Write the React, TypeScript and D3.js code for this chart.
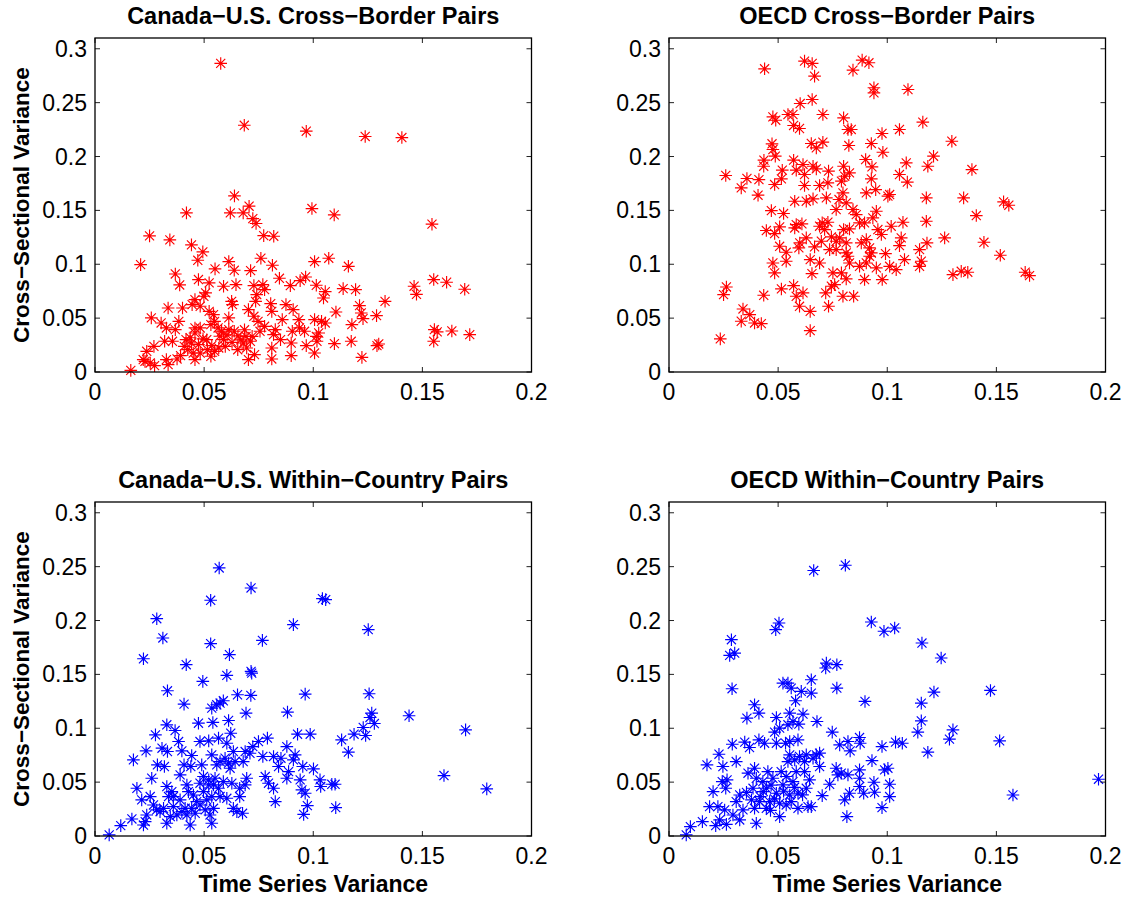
import React from "react";
import * as d3 from "d3";

type Pt = [number, number];

const xTicks = [0, 0.05, 0.1, 0.15, 0.2];
const yTicks = [0, 0.05, 0.1, 0.15, 0.2, 0.25, 0.3];
const xDomain: [number, number] = [0, 0.2];
const yDomain: [number, number] = [0, 0.31];

const panelTitles = [
  "Canada\u2212U.S. Cross\u2212Border Pairs",
  "OECD Cross\u2212Border Pairs",
  "Canada\u2212U.S. Within\u2212Country Pairs",
  "OECD Within\u2212Country Pairs",
];
const yLabelText = "Cross\u2212Sectional Variance";
const xLabelText = "Time Series Variance";

const canadaCrossBorder: Pt[] = [
  [0.0576, 0.2864], [0.0684, 0.229], [0.0968, 0.2235], [0.1238, 0.2186], [0.1406, 0.2176],
  [0.0639, 0.1635], [0.0419, 0.1477], [0.062, 0.1477], [0.0679, 0.1477], [0.0706, 0.1539],
  [0.0723, 0.1424], [0.0738, 0.1378], [0.0994, 0.1517], [0.1096, 0.1458], [0.1544, 0.1372],
  [0.025, 0.1263], [0.0343, 0.1226], [0.0773, 0.1266], [0.0819, 0.126], [0.0442, 0.118],
  [0.0494, 0.1115], [0.0471, 0.1037], [0.0209, 0.0997], [0.0368, 0.091], [0.0388, 0.0808],
  [0.055, 0.0957], [0.0613, 0.1025], [0.0638, 0.0944], [0.0713, 0.0941], [0.076, 0.1056],
  [0.0813, 0.0991], [0.1006, 0.1025], [0.1071, 0.1056], [0.1161, 0.0981], [0.0845, 0.087],
  [0.094, 0.0848], [0.0965, 0.0882], [0.1014, 0.0805], [0.0895, 0.0802], [0.1055, 0.0746],
  [0.1047, 0.0687], [0.1137, 0.0774], [0.1194, 0.0765], [0.1462, 0.0796], [0.1473, 0.0721],
  [0.1552, 0.0858], [0.1611, 0.0833], [0.1694, 0.0768], [0.1329, 0.0656], [0.1104, 0.0557],
  [0.1212, 0.0616], [0.122, 0.0548], [0.1228, 0.0495], [0.129, 0.0523], [0.1177, 0.044],
  [0.1555, 0.0393], [0.1568, 0.0372], [0.1635, 0.0381], [0.1717, 0.0347], [0.1552, 0.0285],
  [0.1174, 0.0285], [0.1097, 0.0263], [0.1292, 0.0245], [0.13, 0.026], [0.1223, 0.0136],
  [0.1006, 0.0176], [0.0968, 0.0245], [0.1017, 0.0285], [0.1025, 0.0362], [0.1038, 0.047],
  [0.1006, 0.0486], [0.096, 0.0378], [0.0899, 0.0152], [0.081, 0.0121], [0.0899, 0.0269],
  [0.0904, 0.0378], [0.0908, 0.0579], [0.0875, 0.0625], [0.0858, 0.0486], [0.0818, 0.0347],
  [0.081, 0.0563], [0.0805, 0.0635], [0.0777, 0.0765], [0.0769, 0.0811], [0.0728, 0.0802],
  [0.0741, 0.0718], [0.0736, 0.0656], [0.0703, 0.0579], [0.0728, 0.0517], [0.0747, 0.047],
  [0.0777, 0.0424], [0.0756, 0.0378], [0.072, 0.0331], [0.0692, 0.0331], [0.0679, 0.0269],
  [0.0654, 0.0207], [0.0703, 0.0115], [0.0731, 0.0161], [0.0638, 0.0378], [0.0613, 0.0393],
  [0.0597, 0.0238], [0.058, 0.0378], [0.0564, 0.0409], [0.0548, 0.047], [0.0613, 0.0502],
  [0.063, 0.0625], [0.0626, 0.0656], [0.0589, 0.0796], [0.0646, 0.0811], [0.0507, 0.0734],
  [0.0499, 0.0703], [0.0523, 0.0827], [0.0474, 0.0858], [0.0458, 0.0672], [0.0445, 0.0625],
  [0.0482, 0.061], [0.0523, 0.0563], [0.0543, 0.0533], [0.0531, 0.044], [0.0482, 0.0409],
  [0.0458, 0.0409], [0.0458, 0.0362], [0.0417, 0.03], [0.0442, 0.0269], [0.0474, 0.0254],
  [0.045, 0.0176], [0.0458, 0.0115], [0.0515, 0.0207], [0.0531, 0.0146], [0.0548, 0.0192],
  [0.0401, 0.0594], [0.0384, 0.047], [0.0368, 0.0393], [0.0335, 0.0594], [0.0303, 0.0455],
  [0.0327, 0.0409], [0.0258, 0.0502], [0.0319, 0.0285], [0.0355, 0.0285], [0.027, 0.0238],
  [0.0237, 0.0192], [0.0229, 0.0099], [0.0253, 0.0084], [0.0273, 0.0059], [0.0327, 0.0115],
  [0.0335, 0.0068], [0.0376, 0.0121], [0.0392, 0.0152], [0.0221, 0.0115], [0.0164, 0.0015],
  [0.0425, 0.0207], [0.0409, 0.0238], [0.0482, 0.0176], [0.0512, 0.03], [0.0567, 0.0223],
  [0.0589, 0.03], [0.0695, 0.0223], [0.081, 0.0223], [0.085, 0.03], [0.0934, 0.0486],
  [0.0937, 0.0409], [0.1055, 0.0455], [0.1014, 0.0331], [0.0826, 0.0393],
  [0.0605, 0.0345], [0.0655, 0.0335], [0.0668, 0.0298], [0.0712, 0.0285], [0.0685, 0.0392],
  [0.0628, 0.0275], [0.0572, 0.0332], [0.0535, 0.0245], [0.0495, 0.0308], [0.0436, 0.0318],
];

const oecdCrossBorder: Pt[] = [
  [0.0235, 0.0307], [0.025, 0.0718], [0.0263, 0.0789], [0.0331, 0.0471], [0.0339, 0.0585],
  [0.037, 0.0533], [0.0392, 0.0455], [0.0423, 0.0449], [0.0434, 0.0712], [0.026, 0.1824],
  [0.0331, 0.1709], [0.0357, 0.1796], [0.0412, 0.1786], [0.0408, 0.1641], [0.0438, 0.2814],
  [0.0476, 0.2368], [0.0489, 0.2337], [0.0472, 0.2118], [0.0476, 0.2065], [0.0435, 0.1966],
  [0.0434, 0.191], [0.0487, 0.2003], [0.0484, 0.174], [0.0515, 0.1793], [0.0519, 0.1873],
  [0.0469, 0.1498], [0.0525, 0.1471], [0.0446, 0.1313], [0.0484, 0.1285], [0.0507, 0.1347],
  [0.0476, 0.1012], [0.0484, 0.092], [0.0515, 0.0771], [0.0507, 0.1167], [0.0537, 0.1111],
  [0.0537, 0.1028], [0.0545, 0.239], [0.0568, 0.239], [0.0571, 0.2288], [0.0598, 0.226],
  [0.0601, 0.2492], [0.0621, 0.2885], [0.0656, 0.2864], [0.0667, 0.2746], [0.0656, 0.2529],
  [0.0705, 0.239], [0.0652, 0.2121], [0.0675, 0.208], [0.0705, 0.2133], [0.0571, 0.1966],
  [0.0583, 0.1873], [0.0614, 0.1926], [0.0621, 0.1833], [0.066, 0.191], [0.0675, 0.1885],
  [0.0731, 0.1864], [0.0621, 0.1731], [0.069, 0.1731], [0.0728, 0.1755], [0.0576, 0.1585],
  [0.0629, 0.1585], [0.066, 0.1607], [0.0721, 0.1616], [0.0583, 0.1368], [0.0609, 0.1375],
  [0.0576, 0.1337], [0.0599, 0.1198], [0.0629, 0.1245], [0.0595, 0.1152], [0.0647, 0.1043],
  [0.0655, 0.0913], [0.069, 0.1012], [0.0571, 0.0802], [0.0583, 0.0703], [0.0614, 0.0734],
  [0.0598, 0.061], [0.0647, 0.0563], [0.0647, 0.0384], [0.0667, 0.1161], [0.0698, 0.1214],
  [0.069, 0.1353], [0.0702, 0.1384], [0.0728, 0.139], [0.0713, 0.1322], [0.0744, 0.1254],
  [0.0766, 0.1214], [0.0782, 0.1245], [0.0766, 0.1136], [0.0736, 0.1136], [0.0718, 0.0734],
  [0.0744, 0.0796], [0.0759, 0.0811], [0.0731, 0.061], [0.0751, 0.092], [0.079, 0.092],
  [0.0812, 0.0864], [0.082, 0.1074], [0.0797, 0.0703], [0.0846, 0.0703], [0.0766, 0.1508],
  [0.0779, 0.1601], [0.0812, 0.157], [0.0797, 0.1663], [0.079, 0.1771], [0.0805, 0.1817],
  [0.0827, 0.1848], [0.08, 0.191], [0.08, 0.1322], [0.0827, 0.1328], [0.0812, 0.1198],
  [0.0812, 0.1105], [0.0827, 0.1012], [0.0858, 0.1461], [0.0843, 0.1508], [0.0873, 0.1384],
  [0.0896, 0.1384], [0.08, 0.2359], [0.082, 0.2251], [0.0835, 0.2251], [0.0824, 0.2102],
  [0.0843, 0.2802], [0.0885, 0.2895], [0.0916, 0.287], [0.0939, 0.2638], [0.0939, 0.2591],
  [0.0901, 0.1972], [0.0927, 0.2121], [0.093, 0.1904], [0.0927, 0.1793], [0.0904, 0.1663],
  [0.0947, 0.1693], [0.0904, 0.1229], [0.0919, 0.1152], [0.0927, 0.1105], [0.0904, 0.1012],
  [0.0919, 0.1074], [0.0881, 0.1198], [0.0873, 0.0981], [0.0896, 0.0858], [0.0934, 0.143],
  [0.095, 0.1492], [0.0957, 0.1322], [0.0973, 0.1276], [0.095, 0.0966], [0.0977, 0.0858],
  [0.0992, 0.1099], [0.0976, 0.2214], [0.098, 0.204], [0.1003, 0.1632], [0.1011, 0.1647],
  [0.1018, 0.1353], [0.1011, 0.0981], [0.1041, 0.095], [0.1056, 0.2251], [0.1095, 0.2622],
  [0.1163, 0.2319], [0.1056, 0.1833], [0.1087, 0.1941], [0.1092, 0.1762], [0.1064, 0.1245],
  [0.1056, 0.1173], [0.1072, 0.139], [0.1079, 0.1043], [0.1148, 0.1136], [0.1182, 0.1198],
  [0.1148, 0.0981], [0.1156, 0.1028], [0.1179, 0.1616], [0.1179, 0.1399], [0.1186, 0.191],
  [0.1212, 0.2003], [0.1263, 0.1245], [0.1296, 0.2142], [0.1301, 0.0904], [0.1339, 0.0935],
  [0.1369, 0.0926], [0.135, 0.1616], [0.1388, 0.1879], [0.1408, 0.1452], [0.1443, 0.1204],
  [0.1518, 0.1084], [0.1533, 0.1579], [0.1557, 0.1548], [0.1632, 0.0926], [0.1652, 0.0895],
];

const canadaWithin: Pt[] = [
  [0.0065, 0.001], [0.0118, 0.0096], [0.0169, 0.0158], [0.0222, 0.0102], [0.023, 0.0133],
  [0.0192, 0.0443], [0.0176, 0.0707], [0.0234, 0.079], [0.0222, 0.1645], [0.0283, 0.2017],
  [0.0311, 0.1838], [0.0332, 0.1348], [0.0408, 0.1224], [0.0418, 0.159], [0.0494, 0.1435],
  [0.053, 0.2188], [0.0569, 0.2488], [0.053, 0.1785], [0.0616, 0.1683], [0.0604, 0.1491],
  [0.0715, 0.2302], [0.0715, 0.1528], [0.0718, 0.1512], [0.0767, 0.1816], [0.0909, 0.1962],
  [0.1042, 0.2203], [0.1057, 0.2194], [0.1252, 0.1915], [0.1256, 0.132], [0.0653, 0.1311],
  [0.0714, 0.1305], [0.0692, 0.114], [0.0535, 0.1187], [0.0558, 0.1218], [0.0573, 0.1233],
  [0.0588, 0.1255], [0.054, 0.1054], [0.0474, 0.1047], [0.0612, 0.1072], [0.0882, 0.115],
  [0.0963, 0.1317], [0.0329, 0.1032], [0.0367, 0.0979], [0.0277, 0.0939], [0.0307, 0.0815],
  [0.0332, 0.0784], [0.0383, 0.0877], [0.0398, 0.079], [0.0286, 0.066], [0.0318, 0.0645],
  [0.026, 0.0536], [0.0214, 0.0335], [0.0253, 0.0366], [0.0268, 0.0288], [0.0237, 0.0195],
  [0.0298, 0.0226], [0.0329, 0.0118], [0.0345, 0.018], [0.0314, 0.0257], [0.0359, 0.0273],
  [0.0398, 0.0226], [0.0413, 0.0257], [0.0329, 0.0459], [0.0352, 0.0412], [0.0359, 0.0366],
  [0.039, 0.0335], [0.0337, 0.0366], [0.039, 0.0567], [0.0408, 0.066], [0.0443, 0.0747],
  [0.0439, 0.0645], [0.0421, 0.0474], [0.0436, 0.0102], [0.0443, 0.0257], [0.0466, 0.0319],
  [0.0451, 0.0381], [0.0428, 0.0412], [0.0489, 0.066], [0.0481, 0.049], [0.0497, 0.0412],
  [0.0505, 0.0242], [0.0527, 0.0195], [0.0535, 0.0118], [0.0543, 0.0257], [0.0481, 0.0877],
  [0.0521, 0.0883], [0.0566, 0.0908], [0.0604, 0.0861], [0.0622, 0.0954], [0.0535, 0.0753],
  [0.0558, 0.066], [0.0573, 0.0691], [0.0596, 0.0722], [0.0612, 0.0676], [0.0619, 0.0629],
  [0.0642, 0.0691], [0.0634, 0.0784], [0.0521, 0.0521], [0.0543, 0.0474], [0.0566, 0.0443],
  [0.0588, 0.0505], [0.0627, 0.049], [0.0573, 0.0366], [0.0604, 0.035], [0.0634, 0.0257],
  [0.065, 0.0226], [0.0676, 0.0211], [0.0663, 0.0366], [0.0663, 0.0443], [0.0688, 0.0474],
  [0.0695, 0.0536], [0.0679, 0.0691], [0.0688, 0.0784], [0.071, 0.0768], [0.0723, 0.083],
  [0.0749, 0.0877], [0.079, 0.0908], [0.0769, 0.0738], [0.0818, 0.0738], [0.078, 0.0552],
  [0.0795, 0.049], [0.0818, 0.0443], [0.0826, 0.0319], [0.0852, 0.0722], [0.0841, 0.0645],
  [0.0879, 0.083], [0.0887, 0.0598], [0.0879, 0.0536], [0.0909, 0.0707], [0.0917, 0.0753],
  [0.0928, 0.0945], [0.0986, 0.0945], [0.094, 0.0521], [0.0948, 0.0428], [0.0963, 0.0397],
  [0.0952, 0.0645], [0.0956, 0.0201], [0.0973, 0.0282], [0.1001, 0.0623], [0.1031, 0.0521],
  [0.1034, 0.0459], [0.1085, 0.048], [0.11, 0.048], [0.1103, 0.0263], [0.113, 0.0892],
  [0.1161, 0.0778], [0.1187, 0.0945], [0.1229, 0.1007], [0.124, 0.0933], [0.126, 0.11],
  [0.1268, 0.114], [0.128, 0.1044], [0.1439, 0.1116], [0.1599, 0.0561], [0.1698, 0.0985],
  [0.1795, 0.0437], [0.0283, 0.0242], [0.0375, 0.0195], [0.0421, 0.0195], [0.0459, 0.0211],
  [0.0481, 0.0288], [0.0512, 0.0335], [0.0535, 0.0366], [0.0521, 0.0474], [0.055, 0.0536],
  [0.0497, 0.0552],
];

const oecdWithin: Pt[] = [
  [0.0079, 0.001], [0.0098, 0.0087], [0.0153, 0.0133], [0.0214, 0.0096], [0.0232, 0.0149],
  [0.0263, 0.0108], [0.0186, 0.0273], [0.0224, 0.0273], [0.0255, 0.0242], [0.0202, 0.0412],
  [0.0244, 0.0505], [0.0266, 0.0521], [0.026, 0.0443], [0.0174, 0.066], [0.0229, 0.0759],
  [0.0247, 0.0645], [0.0308, 0.0691], [0.029, 0.0852], [0.0347, 0.0871], [0.0369, 0.0821],
  [0.0286, 0.1822], [0.0278, 0.1676], [0.0301, 0.1698], [0.0289, 0.1367], [0.0357, 0.1094],
  [0.0392, 0.1218], [0.0412, 0.114], [0.0412, 0.0892], [0.0438, 0.0861], [0.0489, 0.1915],
  [0.0504, 0.1977], [0.0492, 0.11], [0.0484, 0.0964], [0.0507, 0.1001], [0.0492, 0.0861],
  [0.0534, 0.0861], [0.0553, 0.0877], [0.0591, 0.0892], [0.0522, 0.1419], [0.0545, 0.1419],
  [0.056, 0.1373], [0.0606, 0.1342], [0.0652, 0.145], [0.0652, 0.1326], [0.058, 0.1255],
  [0.0614, 0.1131], [0.0553, 0.114], [0.0545, 0.1032], [0.0568, 0.1063], [0.0595, 0.1038],
  [0.0678, 0.1063], [0.0663, 0.2464], [0.0808, 0.2513], [0.0718, 0.1559], [0.0721, 0.1605],
  [0.0769, 0.159], [0.0769, 0.1373], [0.0748, 0.0964], [0.0782, 0.0846], [0.082, 0.0877],
  [0.083, 0.079], [0.0873, 0.0914], [0.0876, 0.0861], [0.0898, 0.1249], [0.0927, 0.1986],
  [0.0985, 0.19], [0.1034, 0.1931], [0.093, 0.07], [0.0976, 0.083], [0.1038, 0.0871],
  [0.1069, 0.0861], [0.0988, 0.0614], [0.1003, 0.0629], [0.1011, 0.048], [0.1011, 0.0366],
  [0.0976, 0.0263], [0.0939, 0.0499], [0.0942, 0.0406], [0.0892, 0.0397], [0.0873, 0.0459],
  [0.0873, 0.0536], [0.0873, 0.0614], [0.0815, 0.018], [0.0805, 0.0335], [0.0827, 0.0397],
  [0.0766, 0.0629], [0.0774, 0.0567], [0.082, 0.0567], [0.0789, 0.0583], [0.0736, 0.048],
  [0.0702, 0.0375], [0.069, 0.0645], [0.0675, 0.0753], [0.069, 0.0769], [0.114, 0.0964],
  [0.1156, 0.1069], [0.1156, 0.1233], [0.1159, 0.1791], [0.1186, 0.0778], [0.1214, 0.1336],
  [0.1247, 0.1652], [0.1285, 0.0899], [0.1301, 0.0985], [0.1473, 0.1351], [0.1515, 0.0883],
  [0.1576, 0.0381], [0.1968, 0.0527], [0.0324, 0.0381], [0.0308, 0.0319], [0.0339, 0.0242],
  [0.0324, 0.0149], [0.0293, 0.0195], [0.04, 0.0118], [0.0392, 0.0257], [0.0415, 0.0319],
  [0.0385, 0.0443], [0.04, 0.0536], [0.0392, 0.0629], [0.0362, 0.0583], [0.0446, 0.0257],
  [0.0461, 0.0319], [0.0446, 0.0443], [0.043, 0.0505], [0.0453, 0.0598], [0.0476, 0.0536],
  [0.0507, 0.018], [0.0507, 0.0304], [0.0492, 0.0397], [0.0522, 0.0474], [0.0537, 0.0552],
  [0.0514, 0.0598], [0.0545, 0.0691], [0.0553, 0.0753], [0.0576, 0.0707], [0.0598, 0.0738],
  [0.0621, 0.0691], [0.0629, 0.0753], [0.066, 0.0722], [0.0583, 0.0598], [0.0568, 0.0505],
  [0.0591, 0.0397], [0.0591, 0.0257], [0.0637, 0.0273], [0.0652, 0.0273], [0.0629, 0.0443],
  [0.0644, 0.0521], [0.0621, 0.0598], [0.0553, 0.0381], [0.0537, 0.0288], [0.056, 0.0319],
  [0.0418, 0.0365], [0.0432, 0.0412], [0.0468, 0.0472], [0.0483, 0.0345], [0.0525, 0.0415],
  [0.0378, 0.0335], [0.0355, 0.0405], [0.0575, 0.0452], [0.0612, 0.0382], [0.0465, 0.0238],
];

const seriesColors = ["#ff0000", "#ff0000", "#0000ff", "#0000ff"];

const FONT = "'Liberation Sans', Arial, Helvetica, sans-serif";

type PanelProps = {
  data: Pt[];
  color: string;
  title: string;
  left: number;
  top: number;
  width: number;
  height: number;
  showYLabel: boolean;
  showXLabel: boolean;
};

function Star({ cx, cy, color }: { cx: number; cy: number; color: string }) {
  const r = 6.3;
  const d = r * 0.72;
  return (
    <path
      d={`M${cx - r},${cy}H${cx + r}M${cx},${cy - r}V${cy + r}M${cx - d},${cy - d}L${cx + d},${cy + d}M${cx - d},${cy + d}L${cx + d},${cy - d}`}
      stroke={color}
      strokeWidth={1.15}
      fill="none"
    />
  );
}

function Panel(p: PanelProps) {
  const x = d3.scaleLinear().domain(xDomain).range([p.left, p.left + p.width]);
  const y = d3.scaleLinear().domain(yDomain).range([p.top + p.height, p.top]);
  const fmt = (v: number) => (v === 0 ? "0" : String(+v.toFixed(2)));
  const tl = 5;
  const bottom = p.top + p.height;
  const right = p.left + p.width;
  const cx = p.left + p.width / 2;
  return (
    <g>
      <rect x={p.left} y={p.top} width={p.width} height={p.height} fill="white" />
      {p.data.map(([a, b], i) => (
        <Star key={i} cx={x(a)} cy={y(b)} color={p.color} />
      ))}
      {xTicks.map((t) => (
        <g key={"x" + t}>
          <line x1={x(t)} x2={x(t)} y1={bottom} y2={bottom - tl} stroke="#222" strokeWidth={1} />
          <line x1={x(t)} x2={x(t)} y1={p.top} y2={p.top + tl} stroke="#222" strokeWidth={1} />
          <text x={x(t)} y={bottom + 28} textAnchor="middle" fontSize={23} fontFamily={FONT} fill="#000">
            {fmt(t)}
          </text>
        </g>
      ))}
      {yTicks.map((t) => (
        <g key={"y" + t}>
          <line x1={p.left} x2={p.left + tl} y1={y(t)} y2={y(t)} stroke="#222" strokeWidth={1} />
          <line x1={right} x2={right - tl} y1={y(t)} y2={y(t)} stroke="#222" strokeWidth={1} />
          <text x={p.left - 8} y={y(t) + 8} textAnchor="end" fontSize={23} fontFamily={FONT} fill="#000">
            {fmt(t)}
          </text>
        </g>
      ))}
      <rect x={p.left} y={p.top} width={p.width} height={p.height} fill="none" stroke="#000" strokeWidth={1.3} />
      <text x={cx} y={p.top - 14} textAnchor="middle" fontSize={23.5} fontWeight="bold" fontFamily={FONT} fill="#000">
        {p.title}
      </text>
      {p.showYLabel && (
        <text
          transform={`translate(${p.left - 66},${p.top + p.height / 2}) rotate(-90)`}
          textAnchor="middle"
          fontSize={22.5}
          fontWeight="bold"
          fontFamily={FONT}
          fill="#000"
        >
          {yLabelText}
        </text>
      )}
      {p.showXLabel && (
        <text x={cx} y={bottom + 56} textAnchor="middle" fontSize={23} fontWeight="bold" fontFamily={FONT} fill="#000">
          {xLabelText}
        </text>
      )}
    </g>
  );
}

export default function App() {
  const W = 1132;
  const H = 898;
  const lefts = [95, 669];
  const tops = [38, 502];
  const pw = 436.5;
  const ph = 334;
  const datasets = [canadaCrossBorder, oecdCrossBorder, canadaWithin, oecdWithin];
  return (
    <svg
      width={W}
      height={H}
      style={{ position: "absolute", left: 0, top: 0, background: "#fff" }}
    >
      <rect width={W} height={H} fill="#fff" />
      {datasets.map((data, i) => (
        <Panel
          key={i}
          data={data}
          color={seriesColors[i]}
          title={panelTitles[i]}
          left={lefts[i % 2]}
          top={tops[Math.floor(i / 2)]}
          width={pw}
          height={ph}
          showYLabel={i % 2 === 0}
          showXLabel={i >= 2}
        />
      ))}
    </svg>
  );
}
